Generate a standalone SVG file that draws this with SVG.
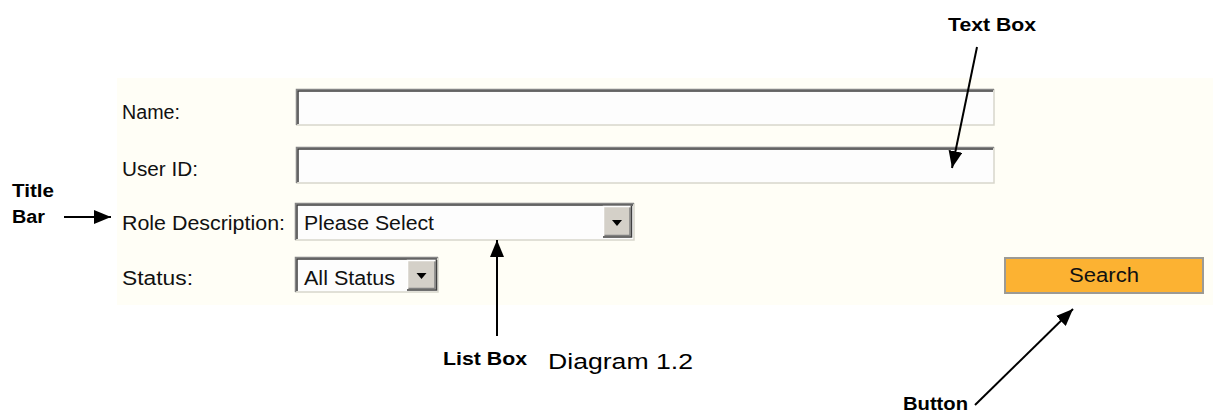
<svg xmlns="http://www.w3.org/2000/svg" width="1213" height="414" viewBox="0 0 1213 414">
  <style>
    .lbl { font-family: "Liberation Sans", Arial, sans-serif; font-size: 20px; fill: #111; }
    .ann { font-family: "Liberation Sans", Arial, sans-serif; font-size: 18px; font-weight: bold; fill: #000; }
    .cap { font-family: "Liberation Sans", Arial, sans-serif; font-size: 22px; fill: #000; }
    .field { fill: #fdfdfd; }
    .edge-out { fill: none; stroke: #858585; stroke-width: 1.5; }
    .edge-in { fill: none; stroke: #3c3c3c; stroke-width: 1.5; }
    .edge-lt { fill: none; stroke: #d8d6cc; stroke-width: 1.5; }
    .btn { fill: #d4d0c8; }
    .btn-hi { fill: none; stroke: #ffffff; stroke-width: 1.5; }
    .btn-sh { fill: none; stroke: #404040; stroke-width: 1.5; }
    .btn-sh2 { fill: none; stroke: #808080; stroke-width: 1.5; }
    .conn { fill: none; stroke: #000; stroke-width: 2; }
  </style>
  <defs>
    <marker id="head" markerUnits="userSpaceOnUse" markerWidth="18" markerHeight="14" refX="17" refY="7" orient="auto">
      <path d="M0,0 L17,7 L0,14 Z" fill="#000"/>
    </marker>
  </defs>

  <rect width="1213" height="414" fill="#ffffff"/>

  <!-- form panel -->
  <g id="panel">
    <rect x="117" y="78" width="1096" height="227" fill="#fffef6"/>
  </g>

  <!-- field labels -->
  <g id="labels">
    <text class="lbl" x="122" y="119" textLength="58" lengthAdjust="spacingAndGlyphs">Name:</text>
    <text class="lbl" x="122" y="176" textLength="76" lengthAdjust="spacingAndGlyphs">User ID:</text>
    <text class="lbl" x="122" y="230" textLength="163" lengthAdjust="spacingAndGlyphs">Role Description:</text>
    <text class="lbl" x="122" y="285" textLength="71" lengthAdjust="spacingAndGlyphs">Status:</text>
  </g>

  <!-- Name text box -->
  <g id="name-box">
    <rect class="field" x="296" y="89" width="698" height="36"/>
    <path class="edge-lt" d="M296,125 L994,125 L994,89"/>
    <path class="edge-out" d="M296.5,125 L296.5,89.5 L994,89.5"/>
    <path class="edge-in" d="M298,124 L298,91 L993,91"/>
  </g>

  <!-- User ID text box -->
  <g id="userid-box">
    <rect class="field" x="296" y="147" width="698" height="36"/>
    <path class="edge-lt" d="M296,183 L994,183 L994,147"/>
    <path class="edge-out" d="M296.5,183 L296.5,147.5 L994,147.5"/>
    <path class="edge-in" d="M298,182 L298,149 L993,149"/>
  </g>

  <!-- Role Description list box -->
  <g id="role-list">
    <rect class="field" x="295" y="203" width="339" height="37"/>
    <path class="edge-lt" d="M295,240 L634,240 L634,203"/>
    <path class="edge-out" d="M295.5,240 L295.5,203.5 L634,203.5"/>
    <path class="edge-in" d="M297,239 L297,205 L633,205"/>
    <rect class="btn" x="603" y="206" width="28" height="31"/>
    <path class="btn-hi" d="M603.5,236.5 L603.5,206.5 L630.5,206.5"/>
    <path class="btn-sh" d="M603,237 L631.5,237 L631.5,206"/>
    <path class="btn-sh2" d="M604.5,235.5 L630,235.5 L630,207.5"/>
    <path d="M612,220 L622,220 L617,226 Z" fill="#000"/>
    <text class="lbl" x="304" y="230" textLength="130" lengthAdjust="spacingAndGlyphs">Please Select</text>
  </g>

  <!-- Status list box -->
  <g id="status-list">
    <rect class="field" x="295" y="257" width="143" height="35"/>
    <path class="edge-lt" d="M295,292 L438,292 L438,257"/>
    <path class="edge-out" d="M295.5,292 L295.5,257.5 L438,257.5"/>
    <path class="edge-in" d="M297,291 L297,259 L437,259"/>
    <rect class="btn" x="407" y="260" width="29" height="30"/>
    <path class="btn-hi" d="M407.5,289.5 L407.5,260.5 L435.5,260.5"/>
    <path class="btn-sh" d="M407,290 L436.5,290 L436.5,260"/>
    <path class="btn-sh2" d="M408.5,288.5 L435,288.5 L435,261.5"/>
    <path d="M416.5,273 L426.5,273 L421.5,279 Z" fill="#000"/>
    <text class="lbl" x="304" y="285" textLength="91" lengthAdjust="spacingAndGlyphs">All Status</text>
  </g>

  <!-- Search button -->
  <g id="search-button">
    <rect x="1005" y="258" width="198" height="35" fill="#fcb232" stroke="#9c9a94" stroke-width="2"/>
    <text class="lbl" x="1104" y="282" text-anchor="middle" textLength="70" lengthAdjust="spacingAndGlyphs">Search</text>
  </g>

  <!-- callout labels -->
  <g id="label-textbox">
    <text class="ann" x="948" y="31" textLength="88" lengthAdjust="spacingAndGlyphs">Text Box</text>
  </g>
  <g id="label-titlebar">
    <text class="ann" x="12" y="197" textLength="42" lengthAdjust="spacingAndGlyphs">Title</text>
    <text class="ann" x="12" y="223" textLength="33" lengthAdjust="spacingAndGlyphs">Bar</text>
  </g>
  <g id="label-listbox">
    <text class="ann" x="443" y="365" textLength="84" lengthAdjust="spacingAndGlyphs">List Box</text>
  </g>
  <g id="label-button">
    <text class="ann" x="903" y="410" textLength="65" lengthAdjust="spacingAndGlyphs">Button</text>
  </g>
  <g id="caption">
    <text class="cap" x="548" y="369" textLength="145" lengthAdjust="spacingAndGlyphs">Diagram 1.2</text>
  </g>

  <!-- connectors -->
  <g id="connectors">
    <line class="conn" x1="64" y1="217" x2="111" y2="217" marker-end="url(#head)"/>
    <line class="conn" x1="977" y1="47" x2="952" y2="168" marker-end="url(#head)"/>
    <line class="conn" x1="497" y1="336" x2="497" y2="240" marker-end="url(#head)"/>
    <line class="conn" x1="975" y1="405" x2="1073" y2="309" marker-end="url(#head)"/>
  </g>
</svg>
